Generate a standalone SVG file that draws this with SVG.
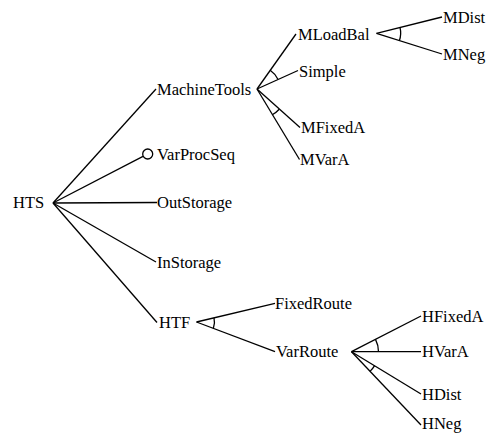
<svg xmlns="http://www.w3.org/2000/svg" width="488" height="433" viewBox="0 0 488 433">
<style>
.c{stroke:#000;stroke-width:1.3;fill:none}
</style>
<rect width="488" height="433" fill="#fff"/>
<g id="connectors" class="c">
<line x1="53" y1="203" x2="156" y2="89"/>
<line x1="53" y1="203" x2="143" y2="156.3"/>
<line x1="53" y1="203" x2="157" y2="202.5"/>
<line x1="53" y1="203" x2="156" y2="262"/>
<line x1="53" y1="203" x2="157" y2="322.5"/>
<line x1="257" y1="89" x2="296" y2="34"/>
<line x1="257" y1="89" x2="298" y2="70.5"/>
<line x1="257" y1="89" x2="300" y2="127.5"/>
<line x1="257" y1="89" x2="299.5" y2="159.5"/>
<path d="M270.2,70.2 A23,23 0 0 1 277.9,79.3"/>
<path d="M279.2,109.2 A30,30 0 0 1 272.3,114.8"/>
<line x1="376.5" y1="33.3" x2="442" y2="17"/>
<line x1="376.5" y1="33.3" x2="442" y2="54"/>
<path d="M400,27.3 A24,24 0 0 1 399.4,40.6"/>
<line x1="196.5" y1="322" x2="275" y2="303.3"/>
<line x1="196.5" y1="322" x2="275" y2="351.7"/>
<path d="M214,317.8 A18,18 0 0 1 213.3,328.4"/>
<line x1="351.5" y1="351.7" x2="421" y2="316"/>
<line x1="351.5" y1="351.7" x2="421" y2="351.7"/>
<line x1="351.5" y1="351.7" x2="421" y2="394"/>
<line x1="351.5" y1="351.7" x2="421" y2="425"/>
<path d="M375.5,339.4 A27,27 0 0 1 378.5,351.7"/>
<path d="M374.6,365.7 A27,27 0 0 1 370,371.4"/>
</g>
<g id="nodes" font-family="Liberation Serif, DejaVu Serif, serif" font-size="16.5" fill="#000">
<g id="HTS"><text x="13" y="208">HTS</text></g>
<g id="MachineTools"><text x="157" y="94.5">MachineTools</text></g>
<g id="VarProcSeq"><circle cx="147.7" cy="154" r="5" class="c"/><text x="157" y="159.5">VarProcSeq</text></g>
<g id="OutStorage"><text x="157" y="208">OutStorage</text></g>
<g id="InStorage"><text x="157" y="267.5">InStorage</text></g>
<g id="HTF"><text x="159" y="327.7">HTF</text></g>
<g id="MLoadBal"><text x="298" y="40">MLoadBal</text></g>
<g id="Simple"><text x="299" y="76.5">Simple</text></g>
<g id="MFixedA"><text x="301" y="133">MFixedA</text></g>
<g id="MVarA"><text x="300" y="165">MVarA</text></g>
<g id="MDist"><text x="443" y="22.5">MDist</text></g>
<g id="MNeg"><text x="443" y="59.5">MNeg</text></g>
<g id="FixedRoute"><text x="275" y="309">FixedRoute</text></g>
<g id="VarRoute"><text x="276" y="357.2">VarRoute</text></g>
<g id="HFixedA"><text x="422" y="321.5">HFixedA</text></g>
<g id="HVarA"><text x="422" y="357.2">HVarA</text></g>
<g id="HDist"><text x="422" y="399.5">HDist</text></g>
<g id="HNeg"><text x="422" y="429">HNeg</text></g>
</g>
</svg>
